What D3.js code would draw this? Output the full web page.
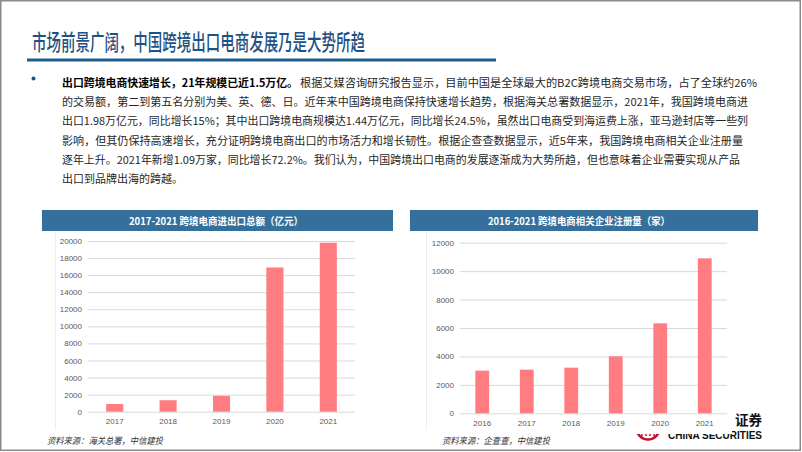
<!DOCTYPE html>
<html><head><meta charset="utf-8">
<script src="https://cdn.jsdelivr.net/npm/d3@7"></script>
<style>html,body{margin:0;padding:0;background:#fff;}svg{display:block;}</style>
</head><body>
<svg id="c" width="802" height="452"></svg>
<script>
const titleText = "市场前景广阔，中国跨境出口电商发展乃是大势所趋";
const boldLead = "出口跨境电商快速增长，21年规模已近1.5万亿。";
const bodyLines = [
  "根据艾媒咨询研究报告显示，目前中国是全球最大的B2C跨境电商交易市场，占了全球约26%",
  "的交易额，第二到第五名分别为美、英、德、日。近年来中国跨境电商保持快速增长趋势，根据海关总署数据显示，2021年，我国跨境电商进",
  "出口1.98万亿元，同比增长15%；其中出口跨境电商规模达1.44万亿元，同比增长24.5%，虽然出口电商受到海运费上涨，亚马逊封店等一些列",
  "影响，但其仍保持高速增长，充分证明跨境电商出口的市场活力和增长韧性。根据企查查数据显示，近5年来，我国跨境电商相关企业注册量",
  "逐年上升。2021年新增1.09万家，同比增长72.2%。我们认为，中国跨境出口电商的发展逐渐成为大势所趋，但也意味着企业需要实现从产品",
  "出口到品牌出海的跨越。"
];
const leftTitle = "2017-2021 跨境电商进出口总额（亿元）";
const leftYears = ["2017","2018","2019","2020","2021"];
const leftValues = [902, 1347, 1862, 16900, 19800];
const leftTicks = [0,2000,4000,6000,8000,10000,12000,14000,16000,18000,20000];
const leftSource = "资料来源：海关总署，中信建投";

const rightTitle = "2016-2021 跨境电商相关企业注册量（家）";
const rightYears = ["2016","2017","2018","2019","2020","2021"];
const rightValues = [3000, 3070, 3210, 4010, 6330, 10900];
const rightTicks = [0,2000,4000,6000,8000,10000,12000];
const rightSource = "资料来源：企查查，中信建投";

const svg = d3.select("#c");
const CJK = "'Noto Sans CJK SC','Noto Sans',sans-serif";

// title
svg.append("text").attr("x",32).attr("y",40).attr("dominant-baseline","central")
  .attr("font-family",CJK).attr("font-size",22).attr("font-weight",500).attr("fill","#1e5284")
  .attr("textLength",333).attr("lengthAdjust","spacingAndGlyphs").text(titleText);
svg.append("rect").attr("x",27).attr("y",58.5).attr("width",469).attr("height",3).attr("fill","#1f5c8b");

// bullet
svg.append("circle").attr("cx",33.5).attr("cy",78.5).attr("r",2).attr("fill","#1e5284");

const lineY = [81.5, 101, 120, 139.5, 158.5, 178];
const lineLen = [457, 686, 686, 681, 678, null];
svg.append("text").attr("x",62).attr("y",lineY[0]).attr("dominant-baseline","central")
  .attr("font-family",CJK).attr("font-size",11).attr("font-weight","bold").attr("fill","#000")
  .attr("textLength",236).attr("lengthAdjust","spacingAndGlyphs").text(boldLead);
bodyLines.forEach((t,i)=>{
  const el = svg.append("text").attr("x", i===0?300:62).attr("y",lineY[i]).attr("dominant-baseline","central")
    .attr("font-family",CJK).attr("font-size",11).attr("fill","#262626").text(t);
  if(lineLen[i]) el.attr("textLength",lineLen[i]).attr("lengthAdjust","spacingAndGlyphs");
});

// logo (partly hidden under right chart)
const logo = svg.append("g");
logo.append("circle").attr("cx",648).attr("cy",428).attr("r",11.5).attr("fill","none").attr("stroke","#c8102e").attr("stroke-width",2.5);
[-6,-2,2,6].forEach(dx=>logo.append("line").attr("x1",648+dx).attr("x2",648+dx).attr("y1",420).attr("y2",436).attr("stroke","#c8102e").attr("stroke-width",1.5));
logo.append("text").attr("x",762).attr("y",419).attr("dominant-baseline","central").attr("text-anchor","end")
  .attr("font-family","'Noto Sans CJK SC',serif").attr("font-weight","bold").attr("font-size",13.5).attr("fill","#111").text("证券");
logo.append("text").attr("x",668).attr("y",434.5).attr("dominant-baseline","central")
  .attr("font-family","'Liberation Sans',Arial,sans-serif").attr("font-weight","bold").attr("font-size",10.5).attr("fill","#111")
  .attr("textLength",94).attr("lengthAdjust","spacingAndGlyphs").text("CHINA SECURITIES");

function chart(o){
  const g = svg.append("g");
  // white image box
  g.append("rect").attr("x",o.boxX).attr("y",232).attr("width",o.boxW).attr("height",o.boxH).attr("fill","#fff");
  g.append("line").attr("x1",o.boxX+0.5).attr("x2",o.boxX+0.5).attr("y1",232).attr("y2",430).attr("stroke","#eeeeee");
  // header
  g.append("rect").attr("x",o.hx).attr("y",210).attr("width",o.hw).attr("height",21).attr("fill","#34709b");
  g.append("text").attr("x",o.tx).attr("y",220.5).attr("dominant-baseline","central").attr("text-anchor","middle")
    .attr("font-family",CJK).attr("font-weight","bold").attr("font-size",10.5).attr("fill","#fff")
    .attr("textLength",o.tw).attr("lengthAdjust","spacingAndGlyphs").text(o.title);
  const x = d3.scaleBand().domain(o.cats).range([o.x0,o.x1]).paddingInner(o.pad).paddingOuter(o.pad/2);
  const y = d3.scaleLinear().domain([0,o.max]).range([o.y0,o.y1]);
  const ya = g.append("g").attr("transform",`translate(${o.x0},0)`)
    .call(d3.axisLeft(y).tickValues(o.ticks).tickSize(-(o.x1-o.x0)).tickPadding(6).tickFormat(d3.format("d")));
  ya.select(".domain").remove();
  ya.selectAll(".tick line").attr("stroke","#d9d9d9").attr("stroke-width",1);
  ya.selectAll(".tick text").attr("font-family","'Liberation Sans',Arial,sans-serif").attr("font-size",8).attr("fill","#595959");
  g.selectAll(".bar").data(o.vals).join("rect").attr("class","bar")
    .attr("x",(d,i)=>x(o.cats[i])).attr("width",x.bandwidth())
    .attr("y",d=>y(d)).attr("height",d=>y(0)-y(d)).attr("fill","#ff7c80");
  const xa = g.append("g").attr("transform",`translate(0,${o.y0})`).call(d3.axisBottom(x).tickSize(0).tickPadding(7));
  xa.select(".domain").remove();
  xa.selectAll(".tick text").attr("font-family","'Liberation Sans',Arial,sans-serif").attr("font-size",8).attr("fill","#595959");
  g.append("text").attr("x",o.sx).attr("y",440).attr("dominant-baseline","central")
    .attr("font-family",CJK).attr("font-style","italic").attr("font-size",9).attr("fill","#333")
    .attr("textLength",o.sw).attr("lengthAdjust","spacingAndGlyphs").text(o.source);
}
chart({boxX:55, boxW:300, boxH:199, hx:42, hw:351, tx:216, tw:174, title:leftTitle, cats:leftYears, vals:leftValues,
  ticks:leftTicks, max:20000, x0:88, x1:355, y0:411.7, y1:241, pad:0.68, sx:47, sw:116, source:leftSource});
chart({boxX:426, boxW:306, boxH:202, hx:410, hw:348, tx:579, tw:182, title:rightTitle, cats:rightYears, vals:rightValues,
  ticks:rightTicks, max:12000, x0:460, x1:727, y0:413.3, y1:242.7, pad:0.69, sx:442, sw:108, source:rightSource});

// page border
svg.append("rect").attr("x",0.75).attr("y",0.75).attr("width",799.5).attr("height",449.5)
  .attr("fill","none").attr("stroke","#8a8a8a").attr("stroke-width",1.5);
</script>
</body></html>
